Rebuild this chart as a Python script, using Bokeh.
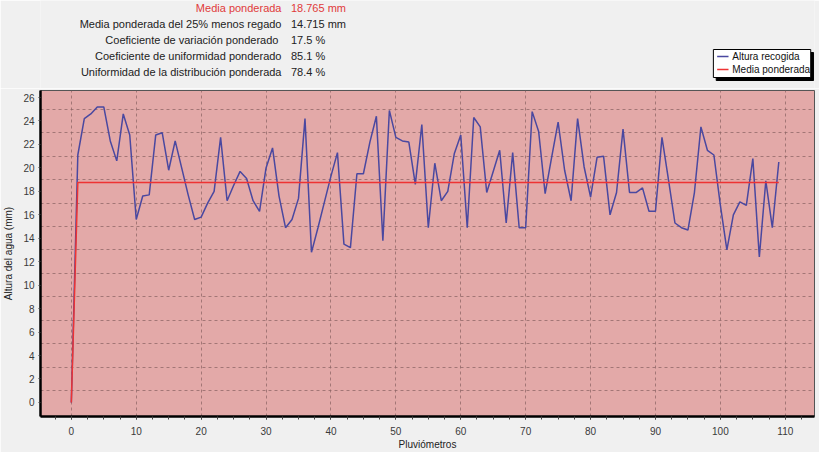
from bokeh.plotting import figure
from bokeh.layouts import column
from bokeh.models import Range1d, FixedTicker
from bokeh.core.properties import value
from bokeh.embed import file_html
from bokeh.resources import INLINE

# ---- data ----
pluviometro = list(range(0, 110))
altura = [0.0, 21.1, 24.2, 24.6, 25.2, 25.2, 22.3, 20.6, 24.6, 22.8,
          15.6, 17.6, 17.7, 22.8, 23.0, 19.8, 22.3, 20.0, 17.7, 15.6,
          15.8, 17.0, 18.0, 22.6, 17.2, 18.5, 19.7, 19.1, 17.2, 16.3,
          20.0, 21.7, 17.6, 14.9, 15.6, 17.4, 24.2, 12.8, 14.9, 17.1,
          19.3, 21.3, 13.5, 13.2, 19.5, 19.5, 22.2, 24.4, 13.8, 24.9,
          22.6, 22.3, 22.2, 18.6, 23.7, 14.9, 20.4, 17.2, 18.0, 21.2,
          22.8, 14.9, 24.3, 23.5, 17.9, 19.7, 21.5, 15.3, 21.3, 14.9,
          14.9, 24.8, 23.1, 17.8, 20.9, 23.9, 19.8, 17.2, 24.2, 20.1,
          17.5, 20.9, 21.0, 16.0, 17.9, 23.3, 17.9, 17.9, 18.3, 16.3,
          16.3, 22.6, 19.0, 15.3, 14.9, 14.7, 17.9, 23.5, 21.5, 21.1,
          16.8, 13.0, 16.0, 17.1, 16.8, 20.8, 12.4, 18.9, 14.9, 20.5]
media_x = [0, 1, 109]
media_y = [0, 18.765, 18.765]

header_labels = ["Media ponderada",
                 "Media ponderada del 25% menos regado",
                 "Coeficiente de variación  ponderado",
                 "Coeficiente de uniformidad ponderado",
                 "Uniformidad de la distribución ponderada"]
header_values = ["18.765 mm", "14.715 mm", "17.5 %", "85.1 %", "78.4 %"]
header_colors = ["#e03a3a", "#222222", "#222222", "#222222", "#222222"]

legend_labels = ["Altura recogida", "Media ponderada"]
legend_colors = ["#4a48a0", "#ee3333"]

x_ticks = list(range(0, 111, 10))
x_minor = [v / 2 for v in range(-10, 231, 5)]
y_ticks = list(range(0, 27, 2))
y_grid = list(range(1, 26, 2))

FONT = "Liberation Sans"
BG = "#f0f0f0"
W = 819
HEAD_H = 88

# ---- header (statistics + legend) ----
h = figure(width=W, height=HEAD_H, x_range=Range1d(0, W), y_range=Range1d(HEAD_H, 0),
           x_axis_type=None, y_axis_type=None, min_border=0,
           output_backend="svg", toolbar_location=None,
           background_fill_color=BG, border_fill_color=BG)
h.grid.visible = False
h.outline_line_color = None

row_y = [7 + 16 * i for i in range(len(header_labels))]
h.text(x=[255] * len(header_labels), y=row_y, text=header_labels,
       text_align="right", text_baseline="middle", text_font=value(FONT),
       text_font_size="11px", text_color=header_colors)
h.text(x=[265] * len(header_values), y=row_y, text=header_values,
       text_align="left", text_baseline="middle", text_font=value(FONT),
       text_font_size="11px", text_color=header_colors)

# legend box with drop shadow
LX0, LX1, LY0, LY1 = 712, 815, 49, 77
h.quad(left=[LX0 + 3], right=[LX1 + 3], top=[LY0 + 3], bottom=[LY1 + 3],
       fill_color="black", line_color="black")
h.quad(left=[LX0], right=[LX1], top=[LY0], bottom=[LY1],
       fill_color="white", line_color="black", line_width=1)
leg_y = [LY0 + 7, LY0 + 20]
h.segment(x0=[LX0 + 4] * 2, x1=[LX0 + 16] * 2, y0=leg_y, y1=leg_y,
          line_color=legend_colors, line_width=1.5)
h.text(x=[LX0 + 20] * 2, y=leg_y, text=legend_labels, text_align="left",
       text_baseline="middle", text_font=value(FONT), text_font_size="10px",
       text_color="#111111")

# ---- main chart ----
p = figure(width=W, height=452 - HEAD_H,
           min_border_left=40, min_border_right=5, min_border_top=2,
           min_border_bottom=31,
           x_range=Range1d(-4.75, 114.5), y_range=Range1d(-1.2, 26.6),
           output_backend="svg", toolbar_location=None,
           background_fill_color="#e3a9a8", border_fill_color=BG)

p.outline_line_color = "#555555"
p.outline_line_width = 1

p.xgrid.ticker = FixedTicker(ticks=x_ticks)
p.ygrid.ticker = FixedTicker(ticks=y_grid)
for g in (p.xgrid, p.ygrid):
    g.grid_line_color = "#8e6666"
    g.grid_line_dash = "3 3"
    g.grid_line_width = 1
    g.grid_line_alpha = 0.75

p.xaxis.ticker = FixedTicker(ticks=x_ticks, minor_ticks=x_minor)
p.yaxis.ticker = FixedTicker(ticks=y_ticks, minor_ticks=[])
for ax in (p.xaxis, p.yaxis):
    ax.axis_line_color = "black"
    ax.axis_line_width = 2.5
    ax.major_tick_in = 0
    ax.minor_tick_in = 0
    ax.major_tick_line_color = "#444444"
    ax.minor_tick_line_color = "#444444"
    ax.major_label_text_font = FONT
    ax.major_label_text_font_size = "10px"
    ax.major_label_text_color = "#3a3a3a"
    ax.axis_label_text_font = FONT
    ax.axis_label_text_font_size = "10px"
    ax.axis_label_text_font_style = "normal"
    ax.axis_label_text_color = "#222222"
p.xaxis.major_tick_out = 3
p.xaxis.minor_tick_out = 3
p.yaxis.major_tick_out = 2
p.yaxis.minor_tick_out = 0
p.xaxis.major_label_standoff = 7
p.yaxis.major_label_standoff = 4
p.xaxis.axis_label_standoff = 1
p.yaxis.axis_label_standoff = 6
p.xaxis.axis_label = "Pluviómetros"
p.yaxis.axis_label = "Altura del agua (mm)"

p.line(pluviometro, altura, line_color=legend_colors[0], line_width=1.5)
p.line(media_x, media_y, line_color=legend_colors[1], line_width=1.5)

layout = column(h, p, spacing=0)
open("out.html", "w").write(file_html(layout, INLINE))
